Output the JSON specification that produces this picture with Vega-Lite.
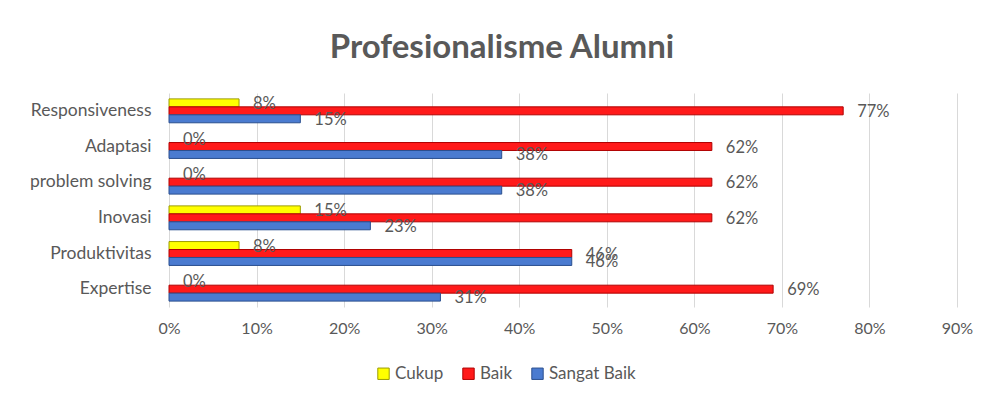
{
  "$schema": "https://vega.github.io/schema/vega-lite/v6.json",
  "width": 788,
  "height": 214,
  "autosize": {"type": "none"},
  "padding": {"left": 169, "top": 93, "right": 30, "bottom": 96},
  "background": "white",
  "config": {
    "font": "Lato",
    "view": {"stroke": null},
    "axis": {"labelColor": "#595959", "labelFont": "Lato"}
  },
  "title": {
    "text": "Profesionalisme Alumni",
    "fontSize": 33,
    "fontWeight": "bold",
    "color": "#595959",
    "font": "Lato",
    "anchor": "middle",
    "dx": -61,
    "offset": 28
  },
  "data": {
    "values": [
      {"kategori": "Responsiveness", "seri": "Cukup", "nilai": 0.08},
      {"kategori": "Responsiveness", "seri": "Baik", "nilai": 0.77},
      {"kategori": "Responsiveness", "seri": "Sangat Baik", "nilai": 0.15},
      {"kategori": "Adaptasi", "seri": "Cukup", "nilai": 0.0},
      {"kategori": "Adaptasi", "seri": "Baik", "nilai": 0.62},
      {"kategori": "Adaptasi", "seri": "Sangat Baik", "nilai": 0.38},
      {"kategori": "problem solving", "seri": "Cukup", "nilai": 0.0},
      {"kategori": "problem solving", "seri": "Baik", "nilai": 0.62},
      {"kategori": "problem solving", "seri": "Sangat Baik", "nilai": 0.38},
      {"kategori": "Inovasi", "seri": "Cukup", "nilai": 0.15},
      {"kategori": "Inovasi", "seri": "Baik", "nilai": 0.62},
      {"kategori": "Inovasi", "seri": "Sangat Baik", "nilai": 0.23},
      {"kategori": "Produktivitas", "seri": "Cukup", "nilai": 0.08},
      {"kategori": "Produktivitas", "seri": "Baik", "nilai": 0.46},
      {"kategori": "Produktivitas", "seri": "Sangat Baik", "nilai": 0.46},
      {"kategori": "Expertise", "seri": "Cukup", "nilai": 0.0},
      {"kategori": "Expertise", "seri": "Baik", "nilai": 0.69},
      {"kategori": "Expertise", "seri": "Sangat Baik", "nilai": 0.31}
    ]
  },
  "encoding": {
    "y": {
      "field": "kategori",
      "type": "nominal",
      "sort": null,
      "scale": {"paddingInner": 0.33, "paddingOuter": 0.165},
      "axis": {"title": null, "ticks": false, "domain": false, "grid": false, "labelPadding": 18, "labelFontSize": 17.5}
    },
    "yOffset": {
      "field": "seri",
      "type": "nominal",
      "scale": {"domain": ["Cukup", "Baik", "Sangat Baik"], "paddingInner": 0, "paddingOuter": 0}
    },
    "x": {
      "field": "nilai",
      "type": "quantitative",
      "scale": {"domain": [0, 0.9], "nice": false},
      "axis": {
        "title": null,
        "format": ".0%",
        "values": [0, 0.1, 0.2, 0.3, 0.4, 0.5, 0.6, 0.7, 0.8, 0.9],
        "ticks": false,
        "domain": false,
        "grid": true,
        "gridColor": "#d9d9d9",
        "labelPadding": 13,
        "labelFlush": false,
        "labelFontSize": 16
      }
    }
  },
  "layer": [
    {
      "mark": {"type": "bar", "strokeWidth": 1},
      "encoding": {
        "color": {
          "field": "seri",
          "type": "nominal",
          "scale": {"domain": ["Cukup", "Baik", "Sangat Baik"], "range": ["#FFFF00", "#FF1A1A", "#4A7BD0"]},
          "legend": {
            "title": null,
            "orient": "none",
            "direction": "horizontal",
            "legendX": 206,
            "legendY": 272,
            "symbolType": "square",
            "symbolSize": 130,
            "symbolStrokeWidth": 1,
            "labelFontSize": 17,
            "labelColor": "#595959",
            "labelFont": "Lato",
            "columnPadding": 16,
            "labelOffset": 3
          }
        },
        "stroke": {
          "field": "seri",
          "type": "nominal",
          "scale": {"domain": ["Cukup", "Baik", "Sangat Baik"], "range": ["#9C9C00", "#B00000", "#2A4F8F"]},
          "legend": null
        },
        "strokeOpacity": {
          "condition": {"test": "datum.nilai === 0", "value": 0},
          "value": 1
        }
      }
    },
    {
      "mark": {"type": "text", "align": "left", "baseline": "middle", "dx": 14, "dy": 1, "fontSize": 16.5, "color": "#595959"},
      "encoding": {
        "text": {"field": "nilai", "type": "quantitative", "format": ".0%"}
      }
    }
  ]
}
